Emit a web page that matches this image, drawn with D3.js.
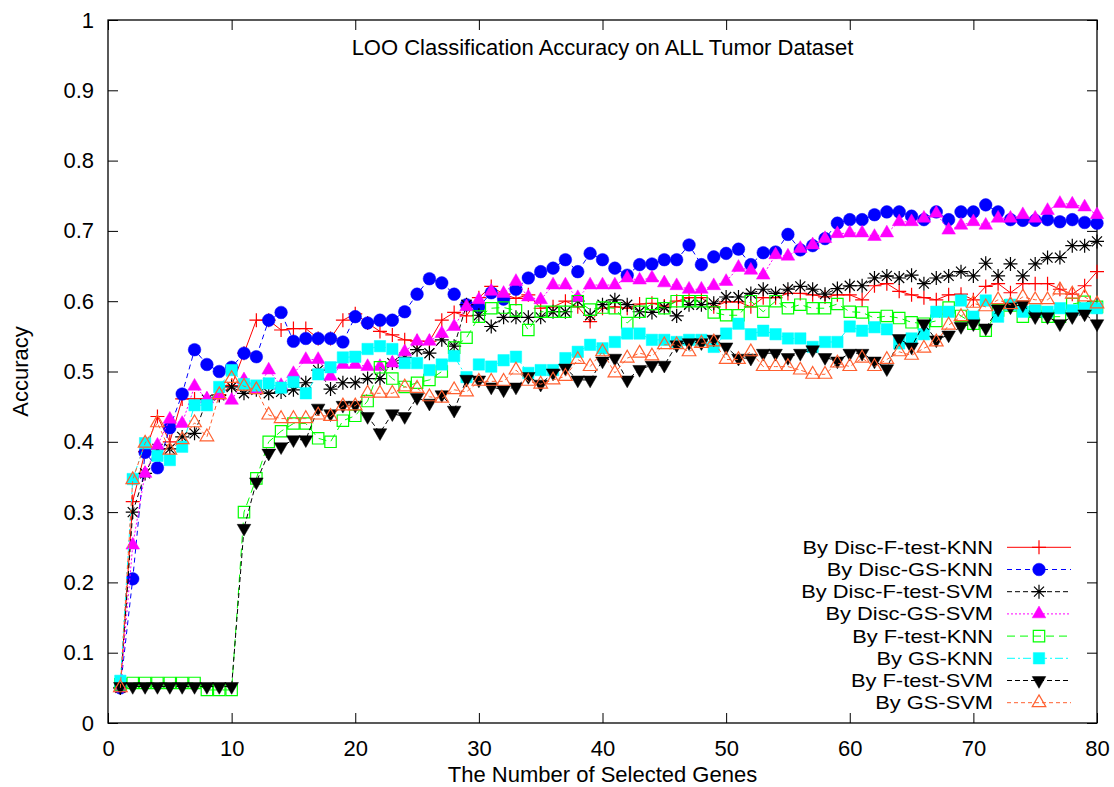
<!DOCTYPE html>
<html>
<head>
<meta charset="utf-8">
<script src="https://cdn.jsdelivr.net/npm/d3@7"></script>
<style>
  body { margin: 0; background: #fff; }
  text { font-family: 'Liberation Sans', Arial, Helvetica, sans-serif; }
</style>
</head>
<body>
<div id="chart"></div>
<script>
// number of selected genes (x categories)
const genes = d3.range(1, 81);

// accuracy per series, genes 1..80
const discFtestKnn = [0.05, 0.315, 0.386, 0.436, 0.40, 0.461, 0.461, 0.461, 0.467, 0.48,
  0.526, 0.573, 0.573, 0.559, 0.561, 0.561, 0.547, 0.547, 0.573, 0.582,
  0.569, 0.557, 0.552, 0.545, 0.543, 0.543, 0.573, 0.584, 0.579, 0.605,
  0.621, 0.61, 0.604, 0.609, 0.59, 0.592, 0.60, 0.592, 0.571, 0.59,
  0.592, 0.59, 0.596, 0.597, 0.593, 0.60, 0.605, 0.605, 0.592, 0.599,
  0.599, 0.592, 0.605, 0.605, 0.611, 0.611, 0.609, 0.606, 0.609, 0.609,
  0.602, 0.622, 0.625, 0.614, 0.609, 0.605, 0.602, 0.609, 0.61, 0.602,
  0.621, 0.625, 0.612, 0.625, 0.625, 0.625, 0.617, 0.61, 0.622, 0.642];
const discGsKnn = [0.05, 0.205, 0.385, 0.363, 0.42, 0.468, 0.531, 0.51, 0.50, 0.506,
  0.526, 0.521, 0.573, 0.584, 0.543, 0.547, 0.547, 0.547, 0.542, 0.578,
  0.569, 0.573, 0.573, 0.585, 0.61, 0.632, 0.626, 0.61, 0.595, 0.592,
  0.612, 0.603, 0.617, 0.633, 0.642, 0.647, 0.659, 0.642, 0.668, 0.659,
  0.647, 0.637, 0.652, 0.653, 0.659, 0.659, 0.68, 0.652, 0.663, 0.668,
  0.674, 0.652, 0.669, 0.67, 0.695, 0.673, 0.679, 0.689, 0.711, 0.716,
  0.716, 0.723, 0.727, 0.727, 0.721, 0.716, 0.727, 0.716, 0.727, 0.727,
  0.737, 0.727, 0.716, 0.715, 0.715, 0.716, 0.713, 0.716, 0.712, 0.711];
const discFtestSvm = [0.05, 0.30, 0.355, 0.39, 0.39, 0.407, 0.412, 0.46, 0.466, 0.478,
  0.469, 0.474, 0.469, 0.471, 0.474, 0.484, 0.502, 0.475, 0.484, 0.484,
  0.49, 0.49, 0.512, 0.52, 0.531, 0.526, 0.545, 0.536, 0.595, 0.58,
  0.564, 0.577, 0.577, 0.577, 0.577, 0.585, 0.585, 0.60, 0.58, 0.595,
  0.602, 0.595, 0.585, 0.584, 0.591, 0.579, 0.595, 0.595, 0.597, 0.606,
  0.606, 0.611, 0.617, 0.611, 0.617, 0.621, 0.617, 0.61, 0.618, 0.622,
  0.622, 0.633, 0.636, 0.633, 0.637, 0.625, 0.633, 0.636, 0.642, 0.636,
  0.654, 0.636, 0.653, 0.636, 0.653, 0.662, 0.662, 0.679, 0.679, 0.685];
const discGsSvm = [0.05, 0.253, 0.355, 0.395, 0.432, 0.426, 0.479, 0.461, 0.466, 0.459,
  0.488, 0.474, 0.502, 0.48, 0.497, 0.517, 0.517, 0.493, 0.51, 0.51,
  0.507, 0.507, 0.512, 0.528, 0.543, 0.543, 0.554, 0.564, 0.592, 0.602,
  0.614, 0.611, 0.628, 0.606, 0.602, 0.623, 0.623, 0.605, 0.623, 0.623,
  0.623, 0.633, 0.63, 0.633, 0.626, 0.622, 0.617, 0.617, 0.622, 0.628,
  0.648, 0.644, 0.637, 0.666, 0.664, 0.675, 0.68, 0.689, 0.696, 0.697,
  0.697, 0.692, 0.697, 0.713, 0.713, 0.718, 0.725, 0.701, 0.708, 0.713,
  0.708, 0.718, 0.718, 0.723, 0.718, 0.729, 0.739, 0.738, 0.734, 0.723];
const ftestKnn = [0.055, 0.057, 0.057, 0.057, 0.057, 0.057, 0.057, 0.047, 0.047, 0.047,
  0.30, 0.348, 0.40, 0.415, 0.426, 0.426, 0.405, 0.40, 0.43, 0.437,
  0.458, 0.506, 0.49, 0.478, 0.484, 0.488, 0.50, 0.534, 0.548, 0.578,
  0.59, 0.591, 0.587, 0.559, 0.585, 0.585, 0.585, 0.60, 0.588, 0.591,
  0.59, 0.569, 0.585, 0.596, 0.59, 0.60, 0.60, 0.60, 0.584, 0.58,
  0.58, 0.60, 0.585, 0.60, 0.59, 0.595, 0.59, 0.59, 0.596, 0.585,
  0.584, 0.576, 0.579, 0.576, 0.57, 0.568, 0.572, 0.591, 0.579, 0.568,
  0.558, 0.587, 0.594, 0.578, 0.585, 0.578, 0.578, 0.596, 0.599, 0.592];
const gsKnn = [0.06, 0.347, 0.398, 0.38, 0.374, 0.393, 0.452, 0.452, 0.478, 0.502,
  0.482, 0.48, 0.483, 0.477, 0.485, 0.469, 0.496, 0.506, 0.52, 0.521,
  0.532, 0.536, 0.532, 0.512, 0.512, 0.502, 0.51, 0.522, 0.492, 0.51,
  0.507, 0.516, 0.521, 0.498, 0.502, 0.502, 0.519, 0.528, 0.538, 0.533,
  0.542, 0.554, 0.554, 0.545, 0.545, 0.542, 0.545, 0.545, 0.535, 0.554,
  0.568, 0.553, 0.558, 0.553, 0.547, 0.547, 0.535, 0.542, 0.542, 0.564,
  0.558, 0.563, 0.56, 0.54, 0.547, 0.553, 0.585, 0.585, 0.601, 0.578,
  0.601, 0.578, 0.595, 0.585, 0.587, 0.585, 0.59, 0.587, 0.59, 0.59];
const ftestSvm = [0.052, 0.052, 0.052, 0.052, 0.052, 0.052, 0.052, 0.052, 0.052, 0.052,
  0.277, 0.343, 0.384, 0.393, 0.403, 0.403, 0.448, 0.44, 0.452, 0.452,
  0.436, 0.413, 0.44, 0.436, 0.463, 0.455, 0.467, 0.445, 0.489, 0.488,
  0.478, 0.474, 0.478, 0.493, 0.482, 0.498, 0.505, 0.488, 0.488, 0.515,
  0.519, 0.488, 0.503, 0.509, 0.509, 0.538, 0.541, 0.541, 0.546, 0.535,
  0.519, 0.519, 0.526, 0.526, 0.52, 0.526, 0.531, 0.52, 0.515, 0.526,
  0.526, 0.515, 0.504, 0.547, 0.535, 0.568, 0.545, 0.552, 0.564, 0.568,
  0.562, 0.589, 0.592, 0.595, 0.578, 0.578, 0.568, 0.578, 0.582, 0.568];
const gsSvm = [0.05, 0.346, 0.398, 0.427, 0.388, 0.403, 0.427, 0.407, 0.467, 0.49,
  0.479, 0.474, 0.438, 0.433, 0.433, 0.433, 0.438, 0.436, 0.451, 0.451,
  0.469, 0.469, 0.469, 0.478, 0.476, 0.464, 0.462, 0.474, 0.471, 0.486,
  0.486, 0.486, 0.502, 0.486, 0.482, 0.488, 0.493, 0.517, 0.507, 0.528,
  0.498, 0.519, 0.526, 0.522, 0.538, 0.538, 0.528, 0.54, 0.542, 0.517,
  0.517, 0.528, 0.507, 0.507, 0.507, 0.502, 0.496, 0.496, 0.512, 0.507,
  0.519, 0.507, 0.517, 0.528, 0.523, 0.533, 0.542, 0.566, 0.578, 0.597,
  0.592, 0.602, 0.595, 0.606, 0.602, 0.602, 0.616, 0.61, 0.606, 0.596];

const seriesNames = ['By Disc-F-test-KNN', 'By Disc-GS-KNN', 'By Disc-F-test-SVM', 'By Disc-GS-SVM',
  'By F-test-KNN', 'By GS-KNN', 'By F-test-SVM', 'By GS-SVM'];
const seriesValues = [discFtestKnn, discGsKnn, discFtestSvm, discGsSvm, ftestKnn, gsKnn, ftestSvm, gsSvm];
const seriesColors = ['#ff0000', '#0000ff', '#000000', '#ff00ff', '#00ff00', '#00ffff', '#000000', '#ff6030'];
const seriesDashes = [null, '5,4', '5,3', '2,2', '8,5', '8,3,2,3', '5,3', '4,3'];
const seriesMarkers = ['plus', 'circle', 'star', 'triangle', 'squareOpen', 'square', 'triangleDown', 'triangleOpen'];

const xTicks = [0, 10, 20, 30, 40, 50, 60, 70, 80];
const yTicks = [0, 0.1, 0.2, 0.3, 0.4, 0.5, 0.6, 0.7, 0.8, 0.9, 1];
const yTickLabels = ['0', '0.1', '0.2', '0.3', '0.4', '0.5', '0.6', '0.7', '0.8', '0.9', '1'];

const width = 1114;
const height = 787;
const margin = { t: 20, r: 17, b: 64, l: 108 };
const fontSize = 22;
const legendFontSize = 19;

const svg = d3
  .select('#chart')
  .append('svg')
  .attr('width', width)
  .attr('height', height)
  .attr('viewBox', [0, 0, width, height]);

const x = d3.scaleLinear().domain([0, 80]).range([margin.l, width - margin.r]);
const y = d3.scaleLinear().domain([0, 1]).range([height - margin.b, margin.t]);

// axes, gnuplot style: ticks point inward, mirrored on top and right
const tickLen = 10;
const styleAxis = (g) => {
  g.select('.domain').remove();
  g.selectAll('line').attr('stroke', '#000').attr('stroke-width', 1);
  g.selectAll('text').attr('font-size', fontSize).attr('fill', '#000').attr('font-family', null);
};

svg
  .append('g')
  .attr('transform', `translate(0,${y(0)})`)
  .call(d3.axisBottom(x).tickValues(xTicks).tickSizeInner(-tickLen).tickSizeOuter(0).tickPadding(17).tickFormat(d3.format('d')))
  .call(styleAxis);

svg
  .append('g')
  .attr('transform', `translate(0,${y(1)})`)
  .call(d3.axisTop(x).tickValues(xTicks).tickSizeInner(-tickLen).tickSizeOuter(0).tickFormat(''))
  .call(styleAxis);

svg
  .append('g')
  .attr('transform', `translate(${x(0)},0)`)
  .call(d3.axisLeft(y).tickValues(yTicks).tickSizeInner(-tickLen).tickSizeOuter(0).tickPadding(14)
    .tickFormat((d, i) => yTickLabels[i]))
  .call(styleAxis);

svg
  .append('g')
  .attr('transform', `translate(${x(80)},0)`)
  .call(d3.axisRight(y).tickValues(yTicks).tickSizeInner(-tickLen).tickSizeOuter(0).tickFormat(''))
  .call(styleAxis);

// plot frame
svg
  .append('rect')
  .attr('x', x(0))
  .attr('y', y(1))
  .attr('width', x(80) - x(0))
  .attr('height', y(0) - y(1))
  .attr('fill', 'none')
  .attr('stroke', '#000')
  .attr('stroke-width', 1.3);

// axis titles
svg
  .append('text')
  .attr('x', (x(0) + x(80)) / 2)
  .attr('y', 55)
  .attr('text-anchor', 'middle')
  .attr('font-size', fontSize)
  .text('LOO Classification Accuracy on ALL Tumor Dataset');

svg
  .append('text')
  .attr('x', (x(0) + x(80)) / 2)
  .attr('y', 782)
  .attr('text-anchor', 'middle')
  .attr('font-size', fontSize)
  .text('The Number of Selected Genes');

svg
  .append('text')
  .attr('transform', `translate(28,${y(0.5)}) rotate(-90)`)
  .attr('text-anchor', 'middle')
  .attr('font-size', fontSize)
  .text('Accuracy');

// point markers
const markerPath = (kind) => {
  if (kind === 'plus') return 'M-7,0H7M0,-7V7';
  if (kind === 'star') return 'M-7,0H7M0,-7V7M-5,-5L5,5M-5,5L5,-5';
  if (kind === 'circle') return d3.symbol(d3.symbolCircle, 125)();
  if (kind === 'square' || kind === 'squareOpen') return d3.symbol(d3.symbolSquare, 130)();
  return d3.symbol(d3.symbolTriangle, 80)();
};

const drawMarker = (sel, kind, color) => {
  const open = kind === 'plus' || kind === 'star' || kind === 'squareOpen' || kind === 'triangleOpen';
  sel
    .append('path')
    .attr('d', markerPath(kind))
    .attr('transform', kind === 'triangleDown' ? 'rotate(180)' : null)
    .attr('fill', open ? 'none' : color)
    .attr('stroke', color)
    .attr('stroke-width', open ? 1.2 : 0.5);
};

const line = d3
  .line()
  .x((d) => x(d[0]))
  .y((d) => y(d[1]));

seriesValues.forEach((vals, s) => {
  const pts = genes.map((g, i) => [g, vals[i]]);
  const g = svg.append('g').attr('class', 'series');
  g.append('path')
    .attr('d', line(pts))
    .attr('fill', 'none')
    .attr('stroke', seriesColors[s])
    .attr('stroke-width', 1)
    .attr('stroke-dasharray', seriesDashes[s]);
  g.selectAll('g.pt')
    .data(pts)
    .join('g')
    .attr('class', 'pt')
    .attr('transform', (d) => `translate(${x(d[0])},${y(d[1])})`)
    .each(function () {
      drawMarker(d3.select(this), seriesMarkers[s], seriesColors[s]);
    });
});

// legend
const legendRight = 993;
const legendTop = 547.3;
const legendStep = 22.2;
const sampleX0 = 1007;
const sampleX1 = 1071;

const legend = svg.append('g').attr('class', 'legend');
seriesNames.forEach((name, s) => {
  const row = legend.append('g').attr('transform', `translate(0,${legendTop + s * legendStep})`);
  const label = row.append('text')
    .attr('x', legendRight)
    .attr('y', 6.5)
    .attr('text-anchor', 'end')
    .attr('font-size', legendFontSize)
    .text(name);
  // the legend glyphs in the original are a little wider than tall
  const w = label.node().getComputedTextLength();
  label.attr('textLength', w * 1.15).attr('lengthAdjust', 'spacingAndGlyphs');
  row.append('line')
    .attr('x1', sampleX0)
    .attr('x2', sampleX1)
    .attr('stroke', seriesColors[s])
    .attr('stroke-width', 1)
    .attr('stroke-dasharray', seriesDashes[s]);
  drawMarker(row.append('g').attr('transform', `translate(${(sampleX0 + sampleX1) / 2},0)`), seriesMarkers[s], seriesColors[s]);
});
</script>
</body>
</html>
